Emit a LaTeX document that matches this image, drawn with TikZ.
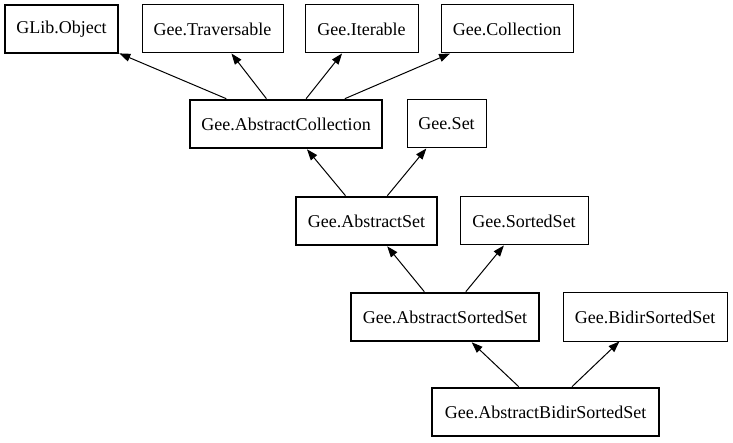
\documentclass[tikz,border=0pt]{standalone}
\usepackage{fontspec}
\setmainfont{Liberation Serif}
\usepackage{tikz}
\usetikzlibrary{arrows.meta}
\tikzset{
    >={Triangle[length=11pt, width=8pt]}, % filled head, like the dot output
    cls/.style={draw=black, line width=1pt, minimum height=48pt, inner sep=0pt,
        font=\fontsize{18}{20}\selectfont, text=black},
    abstractcls/.style={cls, line width=2.6pt},
    inherits/.style={->, line width=1pt, draw=black}
}

\begin{document}
\begin{tikzpicture}[x=1pt, y=-1pt]
    \useasboundingbox (0,0) rectangle (733,443);

    % =========================================================================
    % Top row: base types and interfaces
    % =========================================================================
    \node[abstractcls, minimum width=113pt] (glib)        at (61.5,29)  {GLib.Object};
    \node[cls,         minimum width=141pt] (traversable) at (212.5,29) {Gee.Traversable};
    \node[cls,         minimum width=113pt] (iterable)    at (361.5,29) {Gee.Iterable};
    \node[cls,         minimum width=132pt] (collection)  at (507,29)   {Gee.Collection};

    % =========================================================================
    % Hierarchy going down
    % =========================================================================
    \node[abstractcls, minimum width=192pt] (abscoll)     at (286,124)   {Gee.AbstractCollection};
    \node[cls,         minimum width=79pt]  (set)         at (446.5,124) {Gee.Set};

    \node[abstractcls, minimum width=141pt] (absset)      at (366.5,221) {Gee.AbstractSet};
    \node[cls,         minimum width=128pt] (sortedset)   at (524,221)   {Gee.SortedSet};

    \node[abstractcls, minimum width=188pt] (abssorted)   at (445,317)   {Gee.AbstractSortedSet};
    \node[cls,         minimum width=164pt] (bidirsorted) at (645,317)   {Gee.BidirSortedSet};

    \node[abstractcls, minimum width=227pt] (absbidir)    at (545.5,412) {Gee.AbstractBidirSortedSet};

    % =========================================================================
    % Inheritance arrows (child -> parent)
    % =========================================================================
    \draw[inherits] (abscoll) -- (glib);
    \draw[inherits] (abscoll) -- (traversable);
    \draw[inherits] (abscoll) -- (iterable);
    \draw[inherits] (abscoll) -- (collection);

    \draw[inherits] (absset) -- (abscoll);
    \draw[inherits] (absset) -- (set);

    \draw[inherits] (abssorted) -- (absset);
    \draw[inherits] (abssorted) -- (sortedset);

    \draw[inherits] (absbidir) -- (abssorted);
    \draw[inherits] (absbidir) -- (bidirsorted);
\end{tikzpicture}
\end{document}
